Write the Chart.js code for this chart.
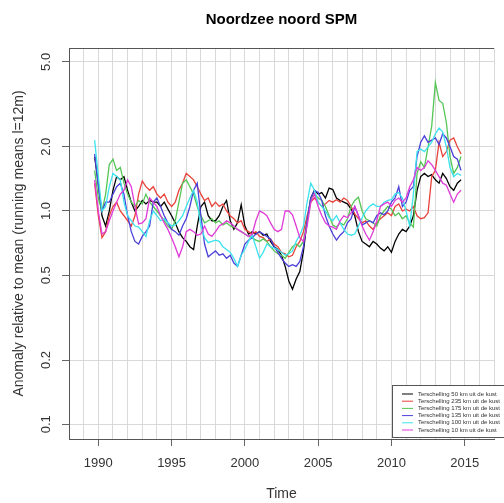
<!DOCTYPE html>
<html>
<head>
<meta charset="utf-8">
<script src="https://cdn.jsdelivr.net/npm/chart.js@4.4.1/dist/chart.umd.min.js"></script>
<style>
  html, body { margin: 0; padding: 0; background: #fff; }
  canvas { display: block; }
</style>
</head>
<body>
<canvas id="spmChart" width="504" height="503"></canvas>
<script>
// quarterly samples of the 12-month running means, first one at 1989.75
const startYear = 1989.75;
const stepYear = 0.25;

const seriesLabels = [
    'Terschelling 50 km uit de kust',
    'Terschelling 235 km uit de kust',
    'Terschelling 175 km uit de kust',
    'Terschelling 135 km uit de kust',
    'Terschelling 100 km uit de kust',
    'Terschelling 10 km uit de kust'
];
const seriesColors = ['#000000', '#e8423a', '#55c655', '#4a3fd9', '#3ce3ee', '#e03ad8'];

const km50 = [
    1.8,
    1.35, 0.95, 0.85, 1.0,
    1.25, 1.45, 1.4, 1.45,
    1.25, 1.1, 1.0, 1.05,
    1.12, 1.08, 1.12, 1.1,
    1.1, 1.05, 1.1, 1.02,
    0.95, 0.88, 0.8, 0.75,
    0.72, 0.68, 0.66, 0.85,
    1.05, 1.1, 0.95, 0.9,
    0.9, 0.95, 1.05, 1.12,
    0.9, 0.82, 0.88, 1.07,
    0.85, 0.78, 0.8, 0.78,
    0.8, 0.77, 0.78, 0.72,
    0.68, 0.66, 0.62, 0.55,
    0.47, 0.43, 0.48, 0.52,
    0.65, 0.9, 1.15, 1.25,
    1.2, 1.22, 1.15, 1.28,
    1.26, 1.15, 1.12, 1.1,
    1.08, 1.02, 0.95, 0.8,
    0.72, 0.7, 0.68, 0.72,
    0.7, 0.67, 0.65, 0.68,
    0.64, 0.72, 0.78, 0.82,
    0.8, 0.85, 0.95, 1.25,
    1.45, 1.5, 1.45, 1.48,
    1.4, 1.35, 1.5, 1.42,
    1.3, 1.25, 1.35, 1.4
];
const km235 = [
    1.35,
    0.95, 0.75, 0.8, 0.95,
    1.05, 1.1, 1.0, 0.95,
    0.9, 0.85, 0.95, 1.2,
    1.38, 1.3, 1.25, 1.3,
    1.2, 1.15, 1.2, 1.1,
    1.05, 1.1, 1.25, 1.35,
    1.5, 1.45, 1.4, 1.3,
    1.2, 1.12, 1.15, 1.05,
    1.1, 1.05, 1.08, 1.0,
    0.95, 0.92, 0.88, 0.9,
    0.82, 0.8, 0.78, 0.8,
    0.76, 0.75, 0.72, 0.74,
    0.7, 0.68, 0.64, 0.63,
    0.61, 0.62, 0.68, 0.72,
    0.8, 0.95, 1.1, 1.15,
    1.1, 1.05, 1.08, 1.12,
    1.1, 1.13, 1.1, 1.15,
    1.12, 1.05, 0.97, 0.92,
    0.88, 0.9, 0.85, 0.82,
    0.88, 0.92, 0.95, 0.98,
    0.95, 1.05, 1.08, 1.0,
    1.02, 1.0, 1.05, 0.95,
    0.92, 0.93, 0.98, 1.45,
    1.55, 2.1, 1.8, 1.9,
    2.15, 2.2, 2.0, 1.85
];
const km175 = [
    1.55,
    1.15, 1.0, 1.2, 1.65,
    1.75, 1.55, 1.6, 1.35,
    1.2, 1.1, 1.05, 1.12,
    1.08, 1.2, 1.1, 1.05,
    1.0, 0.95, 0.9, 0.85,
    0.82, 0.9, 1.1, 1.35,
    1.4, 1.3, 1.2, 1.05,
    0.95, 0.88, 0.9, 0.92,
    0.88, 0.9, 0.86, 0.88,
    0.85, 0.84, 0.82, 0.8,
    0.78, 0.76, 0.75, 0.73,
    0.72, 0.74, 0.72, 0.68,
    0.65, 0.63, 0.62, 0.6,
    0.64, 0.68, 0.7, 0.68,
    0.72, 0.9, 1.15, 1.2,
    1.15, 1.12, 1.05, 0.95,
    0.86, 0.84, 0.88, 0.86,
    0.92, 1.05, 1.12, 1.16,
    1.0, 0.92, 0.9, 0.88,
    0.85, 0.95, 1.0, 1.05,
    1.02, 0.95, 0.98, 0.92,
    0.95, 0.88, 0.84, 1.5,
    1.7, 1.6, 2.0, 2.5,
    4.0, 3.3, 3.2, 2.6,
    1.8, 1.5, 1.6, 1.8
];
const km135 = [
    1.85,
    1.3, 1.0, 1.1, 1.1,
    1.2, 1.3, 1.35, 1.2,
    0.95, 0.8, 0.72, 0.7,
    0.76, 0.8, 0.85, 1.1,
    1.15, 1.05, 0.95, 0.88,
    0.82, 0.8, 0.77, 0.85,
    0.92, 1.05, 1.25, 1.35,
    0.95, 0.7, 0.61, 0.63,
    0.65, 0.62, 0.63, 0.6,
    0.62, 0.57, 0.55, 0.62,
    0.7, 0.73, 0.75, 0.78,
    0.8, 0.78, 0.76, 0.74,
    0.68, 0.64, 0.6, 0.57,
    0.55, 0.56, 0.55, 0.58,
    0.68, 0.9, 1.15, 1.25,
    1.22, 1.12, 0.95, 0.85,
    0.78, 0.73, 0.77, 0.8,
    0.88, 0.92, 1.05, 0.95,
    0.86, 0.88, 0.9, 0.88,
    0.95, 0.98, 0.96, 1.0,
    1.1, 1.15, 1.3, 1.05,
    1.1, 1.25, 1.3, 1.8,
    2.1, 2.25, 2.1, 2.15,
    2.2, 2.05, 2.3, 2.2,
    2.0, 1.8, 1.75, 1.55
];
const km100 = [
    2.15,
    1.45, 1.0, 1.05, 1.3,
    1.5, 1.45, 1.4, 1.1,
    0.95, 0.9, 0.85, 0.84,
    0.8, 0.76, 0.9, 1.0,
    0.95, 0.9, 0.92, 0.88,
    0.85, 0.86, 0.9, 0.95,
    1.05, 1.15, 1.25, 1.1,
    0.85, 0.75, 0.71, 0.72,
    0.73, 0.72, 0.68, 0.66,
    0.64, 0.6, 0.55, 0.62,
    0.66, 0.72, 0.77, 0.68,
    0.6, 0.64, 0.7, 0.68,
    0.67, 0.66, 0.64, 0.62,
    0.63, 0.65, 0.72, 0.77,
    0.85, 1.1, 1.35, 1.25,
    1.1, 1.05, 1.0, 0.93,
    0.9, 0.95, 0.88, 0.82,
    0.78, 0.77, 0.78, 0.85,
    0.93, 1.0, 1.05, 1.08,
    1.05, 1.05, 1.1, 1.12,
    1.13, 1.2, 1.22, 1.15,
    1.0, 0.85, 1.2, 1.9,
    1.95, 1.9, 2.0, 2.1,
    2.3, 2.45, 2.35, 2.0,
    1.6, 1.45, 1.5, 1.47
];
const km10 = [
    1.4,
    1.0, 0.78, 0.8, 0.9,
    1.0, 1.1, 1.2, 1.25,
    1.4, 1.3, 1.05, 0.87,
    0.88, 0.92, 1.15, 1.1,
    1.05, 0.95, 0.88, 0.82,
    0.75, 0.68, 0.61, 0.68,
    0.8, 0.82, 0.8, 0.77,
    0.78, 0.85, 0.78, 0.76,
    0.8, 0.85, 0.87, 0.9,
    0.88, 0.85, 0.82, 0.8,
    0.78, 0.76, 0.78, 0.9,
    1.0, 0.98, 0.95, 0.88,
    0.82, 0.8, 0.82, 1.0,
    1.0, 0.96, 0.85, 0.75,
    0.72, 0.85, 1.1, 1.2,
    1.05, 0.95, 0.88, 0.85,
    0.84, 0.82, 0.9, 0.95,
    0.93, 0.98, 1.05, 0.95,
    0.85, 0.78, 0.73, 0.8,
    0.9, 1.05, 1.08, 1.1,
    1.05, 1.12, 1.15, 1.1,
    1.15, 1.3, 1.4, 1.6,
    1.55, 1.6, 1.72, 1.65,
    1.55, 1.45, 1.35, 1.32,
    1.2, 1.1, 1.2, 1.25
];

const seriesValues = [km50, km235, km175, km135, km100, km10];
const years = km50.map((_, i) => startYear + i * stepYear);

const gridYears = Array.from({length: 30}, (_, i) => 1988 + i);
const yTickValues = [0.1, 0.2, 0.5, 1, 2, 5];
const yTickLabels = ['0.1', '0.2', '0.5', '1.0', '2.0', '5.0'];

const FONT = 'Arial, "Liberation Sans", sans-serif';
Chart.defaults.font.family = FONT;
Chart.defaults.color = '#333';

// R-style extras: top frame line, vertical y tick labels, boxed legend
const rStylePlugin = {
    id: 'rStyle',
    afterDraw(chart) {
        const {ctx, chartArea: area, scales: {y}} = chart;
        ctx.save();

        ctx.strokeStyle = '#555';
        ctx.lineWidth = 1;
        ctx.beginPath();
        ctx.moveTo(area.left, Math.round(area.top) + 0.5);
        ctx.lineTo(area.right, Math.round(area.top) + 0.5);
        ctx.stroke();

        ctx.fillStyle = '#333';
        ctx.font = '13px ' + FONT;
        ctx.textAlign = 'center';
        ctx.textBaseline = 'middle';
        yTickValues.forEach((v, i) => {
            ctx.save();
            ctx.translate(46, y.getPixelForValue(v));
            ctx.rotate(-Math.PI / 2);
            ctx.fillText(yTickLabels[i], 0, 0);
            ctx.restore();
        });

        const boxLeft = 392.5, boxTop = 385.5;
        ctx.fillStyle = '#fff';
        ctx.fillRect(boxLeft, boxTop, 130, 52);
        ctx.strokeStyle = '#555';
        ctx.strokeRect(boxLeft, boxTop, 130, 52);
        ctx.font = '6px ' + FONT;
        ctx.textAlign = 'left';
        seriesLabels.forEach((label, i) => {
            const ly = 394 + i * 7.2;
            ctx.strokeStyle = seriesColors[i];
            ctx.beginPath();
            ctx.moveTo(402, ly);
            ctx.lineTo(413, ly);
            ctx.stroke();
            ctx.fillStyle = '#333';
            ctx.fillText(label, 418, ly);
        });
        ctx.restore();
    }
};

new Chart(document.getElementById('spmChart'), {
    type: 'line',
    data: {
        datasets: seriesValues.map((vals, i) => ({
            label: seriesLabels[i],
            data: vals.map((v, j) => ({x: years[j], y: v})),
            borderColor: seriesColors[i],
            borderWidth: 1.3,
            pointRadius: 0,
            tension: 0,
            fill: false,
            order: seriesValues.length - i
        }))
    },
    options: {
        responsive: false,
        animation: false,
        devicePixelRatio: 1,
        layout: {padding: 0},
        plugins: {
            legend: {display: false},
            tooltip: {enabled: false},
            title: {
                display: true,
                fullSize: false,
                text: 'Noordzee noord SPM',
                color: '#000',
                font: {size: 15, weight: 'bold'},
                padding: {top: 11, bottom: 19}
            }
        },
        scales: {
            x: {
                type: 'linear',
                min: 1988,
                max: 2017,
                afterBuildTicks: scale => {
                    scale.ticks = gridYears.map(v => ({value: v}));
                },
                afterFit: scale => { scale.height = 64; },
                ticks: {
                    autoSkip: false,
                    maxRotation: 0,
                    padding: 10,
                    font: {size: 13},
                    callback: v => (v % 5 === 0 ? String(v) : '')
                },
                grid: {
                    color: '#d9d9d9',
                    tickLength: 7,
                    tickColor: ctx => (ctx.tick && ctx.tick.value % 5 === 0 ? '#666' : 'rgba(0,0,0,0)')
                },
                border: {display: true, color: '#555'},
                title: {
                    display: true,
                    text: 'Time',
                    font: {size: 14},
                    padding: {top: 0, bottom: 0}
                }
            },
            y: {
                type: 'logarithmic',
                min: 0.0853,
                max: 5.81,
                afterBuildTicks: scale => {
                    scale.ticks = yTickValues.map(v => ({value: v}));
                },
                afterFit: scale => { scale.width = 69; },
                ticks: {display: false},
                grid: {color: '#d9d9d9', tickLength: 7, tickColor: '#666'},
                border: {display: true, color: '#555'},
                title: {
                    display: true,
                    text: 'Anomaly relative to mean (running means l=12m)',
                    font: {size: 14},
                    padding: {top: 11, bottom: 0}
                }
            }
        }
    },
    plugins: [rStylePlugin]
});
</script>
</body>
</html>
